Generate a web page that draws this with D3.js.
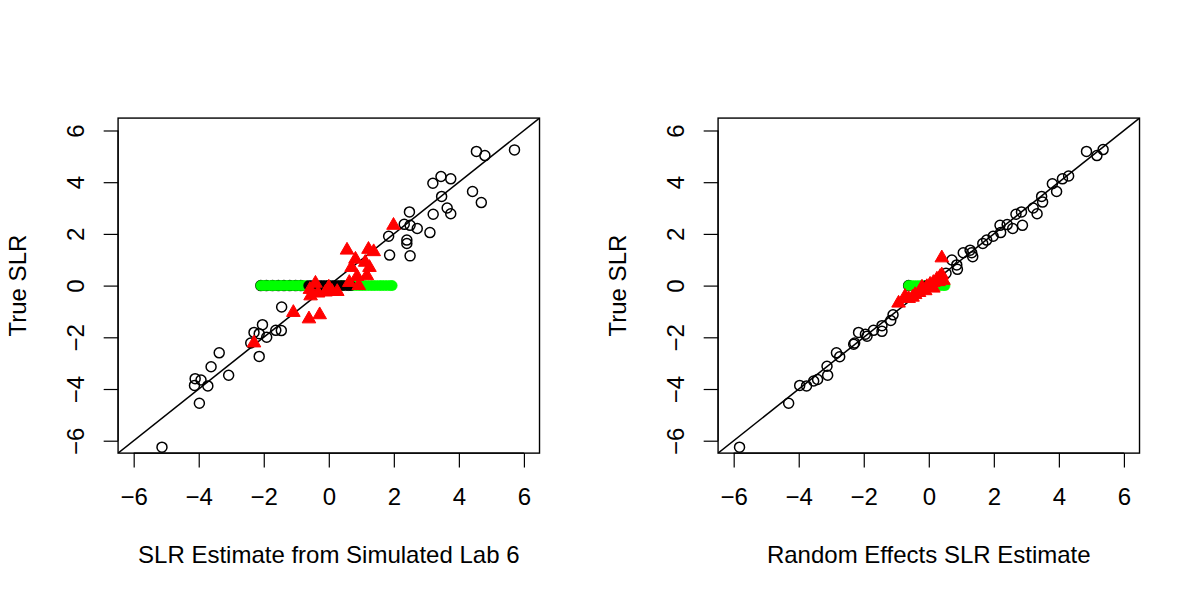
<!DOCTYPE html>
<html><head><meta charset="utf-8">
<script src="https://cdn.jsdelivr.net/npm/d3@7"></script>
<style>html,body{margin:0;padding:0;background:#fff;}svg{display:block;font-family:"Liberation Sans",Arial,sans-serif;}</style>
</head><body>
<svg id="chart" width="1200" height="600"></svg>
<script>
// ---- data ----
const ticks = [-6, -4, -2, 0, 2, 4, 6];
const axisLimits = [-6, 6];
const yTitle = "True SLR";
const xTitles = ["SLR Estimate from Simulated Lab 6", "Random Effects SLR Estimate"];

// Left panel: [estimate, true]
const labCircles = [
  [4.54,5.19],[4.80,5.03],[5.71,5.25],[3.20,3.96],[3.45,4.22],[3.75,4.13],[3.47,3.45],[4.42,3.64],
  [4.69,3.21],[3.64,3.00],[3.75,2.78],[3.21,2.76],[2.48,2.85],[2.32,2.37],[2.50,2.33],[2.72,2.21],
  [3.11,2.05],[1.84,1.91],[2.40,1.76],[2.40,1.63],[1.87,1.18],[2.50,1.15],[-1.45,-0.83],[-2.04,-1.51],
  [-2.30,-1.81],[-2.14,-1.86],[-1.91,-2.00],[-1.63,-1.73],[-1.46,-1.74],[-2.40,-2.22],[-2.14,-2.74],
  [-3.37,-2.60],[-3.62,-3.14],[-4.11,-3.60],[-3.93,-3.65],[-4.13,-3.86],[-3.72,-3.88],[-3.08,-3.47],
  [-3.98,-4.55],[-5.13,-6.25]
];
const labNullOutline = [-2.09, -1.92, -1.73, -1.55, -1.38, -1.2, -1.02, -0.86];
const labNullGreen = [-2.09,-2.0,-1.91,-1.8,-1.72,-1.63,-1.52,-1.44,-1.33,-1.25,-1.14,-1.05,-0.96,-0.88,-0.79,-0.7,
  -0.4,0.0,0.4,0.62,0.71,0.8,0.9,0.99,1.08,1.17,1.27,1.36,1.45,1.55,1.63,1.72,1.81,1.9,1.95];
const labNullBlack = [-0.62,-0.53,-0.45,-0.36,-0.27,-0.19,-0.1,-0.02,0.08,0.17,0.25,0.34,0.43,0.52,0.6,0.68];
const labTriangles = [
  [1.99,2.33],[0.56,1.37],[1.22,1.40],[1.38,1.31],[0.82,1.02],[1.12,0.90],[0.70,0.70],[1.25,0.70],
  [1.17,0.38],[0.87,0.35],[0.63,0.12],[0.92,0.0],[-0.41,0.09],[-0.58,-0.15],[-0.33,-0.29],[0.0,-0.06],
  [0.1,-0.23],[-0.1,-0.25],[0.26,-0.23],[-0.56,-0.40],[-1.09,-1.04],[-0.61,-1.29],[-0.28,-1.13],[-2.30,-2.22]
];

// Right panel: [estimate, true]
const reCircles = [
  [4.85,5.19],[5.17,5.03],[5.36,5.26],[3.80,3.94],[3.93,3.64],[4.11,4.13],[4.30,4.24],[3.47,3.45],
  [3.50,3.23],[3.21,3.00],[3.33,2.78],[2.68,2.76],[2.85,2.85],[2.88,2.33],[2.58,2.21],[2.19,2.33],
  [2.41,2.36],[2.21,2.05],[1.98,1.91],[1.78,1.76],[1.66,1.63],[1.06,1.27],[1.27,1.37],[1.35,1.12],
  [1.32,1.27],[0.86,0.80],[0.88,0.63],[0.71,0.99],[0.53,0.48],[-1.10,-1.13],[-1.17,-1.35],[-1.44,-1.55],
  [-1.44,-1.77],[-1.70,-1.73],[-1.90,-1.96],[-1.95,-1.88],[-2.16,-1.81],[-2.28,-2.22],[-2.31,-2.27],
  [-2.84,-2.60],[-2.74,-2.75],[-3.13,-3.12],[-3.11,-3.47],[-3.42,-3.63],[-3.54,-3.69],[-3.97,-3.86],
  [-3.76,-3.88],[-4.31,-4.55],[-5.82,-6.25]
];
const reNullOutline = [-0.62];
const reNullGreen = [-0.62,-0.52,-0.41,-0.3,-0.2,-0.09,0.02,0.13,0.24,0.34,0.44,0.5];
const reNullBlack = [-0.08,-0.03];
const reTriangles = [
  [0.40,1.07],[0.35,0.35],[0.40,0.41],[0.25,0.25],[0.14,0.12],[0.04,0.05],[-0.06,-0.04],[-0.21,-0.06],
  [-0.11,-0.20],[0.14,-0.10],[-0.30,-0.27],[-0.42,-0.35],[-0.50,-0.45],[-0.73,-0.42],[-0.62,-0.50],
  [-0.93,-0.68],[0.30,0.15],[0.45,0.20]
];

const panels = [
  {x0:0, title:xTitles[0], circles:labCircles, outline:labNullOutline, green:labNullGreen, black:labNullBlack, tri:labTriangles},
  {x0:600, title:xTitles[1], circles:reCircles, outline:reNullOutline, green:reNullGreen, black:reNullBlack, tri:reTriangles}
];

// ---- layout (R-like) ----
const W = 600, H = 600, fs = 24, lh = 28.8;
const mar = {b:5.1*lh, l:4.1*lh, t:4.1*lh, r:2.1*lh};
const svg = d3.select("#chart");
const ext = (axisLimits[1]-axisLimits[0])*0.04;
const dom = [axisLimits[0]-ext, axisLimits[1]+ext];
const R = 5;

panels.forEach((p, i) => {
  const left = p.x0 + mar.l, right = p.x0 + W - mar.r, top = mar.t, bottom = H - mar.b;
  const x = d3.scaleLinear().domain(dom).range([left, right]);
  const y = d3.scaleLinear().domain(dom).range([bottom, top]);
  const g = svg.append("g");
  const cid = "clip"+i;
  g.append("clipPath").attr("id", cid).append("rect")
    .attr("x", left).attr("y", top).attr("width", right-left).attr("height", bottom-top);

  // axes
  const xa = d3.axisBottom(x).tickValues(ticks).tickSize(0.5*lh).tickPadding(0).tickFormat(d => d3.format("")(d).replace("-", "\u2212"));
  const gx = g.append("g").attr("transform", `translate(0,${bottom})`).call(xa);
  gx.select(".domain").attr("d", `M${x(ticks[0])},0H${x(ticks[ticks.length-1])}`).attr("stroke","#000").attr("stroke-width",1.2);
  gx.selectAll(".tick line").attr("stroke","#000").attr("stroke-width",1.2);
  gx.selectAll(".tick text").attr("y", 1.8*lh).attr("dy", null).attr("font-size", fs).attr("fill","#000")
    .attr("font-family","Liberation Sans, Arial, sans-serif");

  const ya = d3.axisLeft(y).tickValues(ticks).tickSize(0.5*lh).tickPadding(0).tickFormat(d => d3.format("")(d).replace("-", "\u2212"));
  const gy = g.append("g").attr("transform", `translate(${left},0)`).call(ya);
  gy.select(".domain").attr("d", `M0,${y(ticks[0])}V${y(ticks[ticks.length-1])}`).attr("stroke","#000").attr("stroke-width",1.2);
  gy.selectAll(".tick line").attr("stroke","#000").attr("stroke-width",1.2);
  gy.selectAll(".tick text").attr("x", null).attr("dy", null)
    .attr("transform", `translate(${-1.2*lh},0) rotate(-90)`).attr("text-anchor","middle")
    .attr("font-size", fs).attr("fill","#000").attr("font-family","Liberation Sans, Arial, sans-serif");

  // box
  g.append("rect").attr("x", left).attr("y", top).attr("width", right-left).attr("height", bottom-top)
    .attr("fill","none").attr("stroke","#000").attr("stroke-width",1.4);

  // titles
  g.append("text").attr("x", (left+right)/2).attr("y", bottom + 3.8*lh).attr("text-anchor","middle")
    .attr("font-size", fs).text(p.title);
  g.append("text").attr("transform", `translate(${left - 3.2*lh},${(top+bottom)/2}) rotate(-90)`)
    .attr("text-anchor","middle").attr("font-size", fs).text(yTitle);

  const pg = g.append("g").attr("clip-path", `url(#${cid})`);
  // identity line
  pg.append("line").attr("x1", x(dom[0])).attr("y1", y(dom[0])).attr("x2", x(dom[1])).attr("y2", y(dom[1]))
    .attr("stroke","#000").attr("stroke-width",1.5);

  // main points
  pg.selectAll(".c").data(p.circles).join("circle").attr("cx", d=>x(d[0])).attr("cy", d=>y(d[1])).attr("r", R)
    .attr("fill","none").attr("stroke","#000").attr("stroke-width",1.5);
  // null genes
  pg.selectAll(".o").data(p.outline).join("circle").attr("cx", d=>x(d)).attr("cy", y(0)).attr("r", R)
    .attr("fill","none").attr("stroke","#000").attr("stroke-width",1.5);
  pg.selectAll(".gn").data(p.green).join("circle").attr("cx", d=>x(d)).attr("cy", y(0)).attr("r", R)
    .attr("fill","#00FF00").attr("stroke","#00FF00").attr("stroke-width",0.6);
  pg.selectAll(".bk").data(p.black).join("circle").attr("cx", d=>x(d)).attr("cy", y(0)).attr("r", R)
    .attr("fill","#000").attr("stroke","#000").attr("stroke-width",0.6);
  // red triangles
  const tri = d3.symbol(d3.symbolTriangle, 80);
  pg.selectAll(".t").data(p.tri).join("path").attr("d", tri)
    .attr("transform", d=>`translate(${x(d[0])},${y(d[1])})`)
    .attr("fill","#FF0000").attr("stroke","#FF0000").attr("stroke-width",1);
});
</script>
</body></html>
